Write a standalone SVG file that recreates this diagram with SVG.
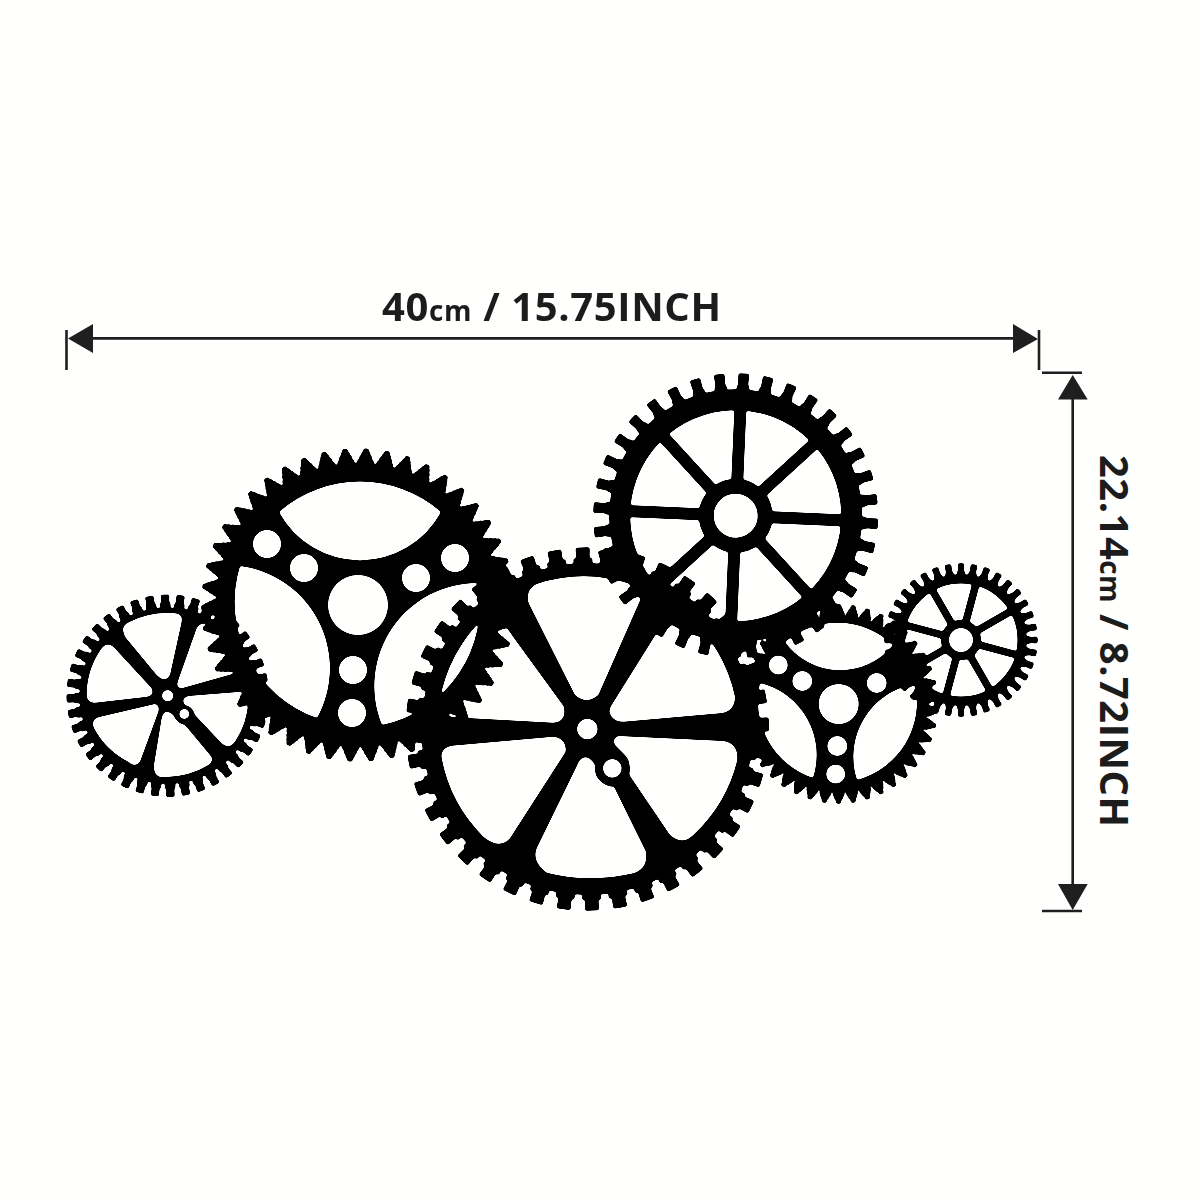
<svg xmlns="http://www.w3.org/2000/svg" width="1200" height="1200" viewBox="0 0 1200 1200">
<style>
.t{fill:none;stroke:#000}
.d{fill:#000;fill-rule:evenodd}
.s{stroke:#000;fill:none}
.l{stroke:#1f1f1f;stroke-width:2.6;fill:none}
.h{fill:#1f1f1f}
.x{font-family:"Open Sans","Liberation Sans",sans-serif;font-weight:700;fill:#1c1c1c;font-size:40px}
.m{font-size:28px}
</style>
<defs>
<filter id="soft" filterUnits="userSpaceOnUse" x="0" y="0" width="1200" height="1200">
<feGaussianBlur stdDeviation="1.1"/>
<feComponentTransfer><feFuncA type="linear" slope="6" intercept="-2.5"/></feComponentTransfer>
</filter>
</defs>
<rect width="1200" height="1200" fill="#fffffe"/>
<g id="gears" filter="url(#soft)">
<g id="gear-1" transform="rotate(7.4 167.7 695.7)">
<circle class="t" cx="167.7" cy="695.7" r="90" stroke-width="6" pathLength="40" stroke-dasharray=".74 .26" stroke-dashoffset=".37"/>
<circle class="t" cx="167.7" cy="695.7" r="96.5" stroke-width="9.5" pathLength="40" stroke-dasharray=".55 .45" stroke-dashoffset=".275"/>
</g>
<path id="gear-1-body" class="d" transform="translate(60 440) scale(.33333)" d="M59 767a264 264 0 1 0 528 0a264 264 0 1 0 -528 0Z
M306 767a17 17 0 1 0 34 0a17 17 0 1 0 -34 0Z
M358 822a15 15 0 1 0 30 0a15 15 0 1 0 -30 0Z
M190 575Q185 555 210 545A245 245 0 0 1 345 520Q370 522 365 545L330 705Q315 730 290 705L195 590Z
M355 720L410 565Q420 545 445 552A245 245 0 0 1 560 690L365 745Q345 745 355 720Z
M385 768L545 755Q570 760 565 785A245 245 0 0 1 525 905Q505 930 485 910L405 825Q400 800 375 795Q360 775 385 768Z
M318 815Q310 815 305 835L282 975Q280 1012 310 1012Q390 1010 445 975Q465 960 450 945L375 855Q350 850 340 825Q330 815 318 815Z
M285 792Q300 795 295 815L240 965Q225 985 205 965A240 240 0 0 1 100 860Q95 838 115 832Z
M275 745Q285 765 262 770L105 788Q78 790 80 760A245 245 0 0 1 125 625Q140 605 160 620Z"/>
<g id="gear-2" transform="rotate(6.9 358 605)">
<circle class="t" cx="358" cy="605" r="143" stroke-width="5" pathLength="46" stroke-dasharray=".85 .15" stroke-dashoffset=".425"/>
<circle class="t" cx="358" cy="605" r="147" stroke-width="5" pathLength="46" stroke-dasharray=".64 .36" stroke-dashoffset=".32"/>
<circle class="t" cx="358" cy="605" r="151" stroke-width="4.5" pathLength="46" stroke-dasharray=".44 .56" stroke-dashoffset=".22"/>
<circle class="t" cx="358" cy="605" r="154.5" stroke-width="4.5" pathLength="46" stroke-dasharray=".26 .74" stroke-dashoffset=".13"/>
</g>
<path id="gear-2-body" class="d" d="M216 605a142 142 0 1 0 284 0a142 142 0 1 0 -284 0Z
M328 605a30 30 0 1 0 60 0a30 30 0 1 0 -60 0Z
M253 544a14 14 0 1 0 28 0a14 14 0 1 0 -28 0Z
M290 568a14 14 0 1 0 28 0a14 14 0 1 0 -28 0Z
M402 578a14 14 0 1 0 28 0a14 14 0 1 0 -28 0Z
M441 558a14 14 0 1 0 28 0a14 14 0 1 0 -28 0Z
M339 670a14 14 0 1 0 28 0a14 14 0 1 0 -28 0Z
M338 713a14 14 0 1 0 28 0a14 14 0 1 0 -28 0Z
M279 512A123 123 0 0 1 441 512A92 92 0 0 1 279 512Z
M240 566A123 123 0 0 0 317 718A103 103 0 0 0 240 566Z
M478 583A123 123 0 0 1 382 725A103 103 0 0 1 478 583Z"/>
<g id="gear-3" transform="rotate(-6.7 735.7 515.7)">
<circle class="s" cx="735.7" cy="515.7" r="116" stroke-width="21"/>
<circle class="s" cx="735.7" cy="515.7" r="29.5" stroke-width="15"/>
<circle class="t" cx="735.7" cy="515.7" r="128" stroke-width="5" pathLength="36" stroke-dasharray=".55 .45" stroke-dashoffset=".275"/>
<circle class="t" cx="735.7" cy="515.7" r="135" stroke-width="15" pathLength="36" stroke-dasharray=".44 .56" stroke-dashoffset=".22"/>
</g>
<g id="gear-3-spokes" class="s" stroke-width="12">
<line x1="625.8" y1="511" x2="845.6" y2="520.5" pathLength="220" stroke-dasharray="80 60 80"/>
<line x1="654.6" y1="590" x2="816.8" y2="441.4" pathLength="220" stroke-dasharray="80 60 80"/>
<line x1="731" y1="625.6" x2="740.5" y2="405.8" pathLength="220" stroke-dasharray="80 60 80"/>
<line x1="661.4" y1="434.6" x2="810" y2="596.8" pathLength="220" stroke-dasharray="80 60 80"/>
</g>
<g id="gear-4" transform="rotate(7.5 587.3 729)">
<circle class="t" cx="587.3" cy="729" r="168.5" stroke-width="5" pathLength="40" stroke-dasharray=".72 .28" stroke-dashoffset=".36"/>
<circle class="t" cx="587.3" cy="729" r="175.5" stroke-width="12.5" pathLength="40" stroke-dasharray=".5 .5" stroke-dashoffset=".25"/>
</g>
<path id="gear-4-body" class="d" transform="translate(340 540) scale(.33333)" d="M244 567a498 498 0 1 0 996 0a498 498 0 1 0 -996 0Z
M711 567a31 31 0 1 0 62 0a31 31 0 1 0 -62 0Z
M789 685a28 28 0 1 0 56 0a28 28 0 1 0 -56 0Z
M566 190Q555 150 590 132A453 453 0 0 1 880 135Q915 140 905 170L775 465Q740 495 705 465Z
M815 495L990 215Q1010 200 1040 225A453 453 0 0 1 1185 470Q1185 515 1140 520L850 545Q815 545 808 515Q808 505 815 495Z
M835 588L1150 603Q1195 610 1192 660A453 453 0 0 1 1065 880Q1030 920 990 885L868 705Q875 665 855 645L825 615Q815 595 835 588Z
M735 652Q718 655 712 675L590 925Q575 965 620 998Q750 1030 880 1000Q925 985 918 935L822 740Q790 740 770 710Q762 690 765 675Q750 650 735 652Z
M335 617L640 590Q680 595 677 635L510 895Q480 930 430 890A453 453 0 0 1 305 655Q300 625 335 617Z
M340 532L640 548Q680 545 672 500L530 305L480 235Q465 215 440 225A453 453 0 0 0 298 490Q295 525 340 532Z"/>
<g id="gear-5" transform="rotate(4.3 838.7 704)">
<circle class="t" cx="838.7" cy="704" r="90" stroke-width="5" pathLength="42" stroke-dasharray=".85 .15" stroke-dashoffset=".425"/>
<circle class="t" cx="838.7" cy="704" r="93.5" stroke-width="4.5" pathLength="42" stroke-dasharray=".62 .38" stroke-dashoffset=".31"/>
<circle class="t" cx="838.7" cy="704" r="97.5" stroke-width="4.5" pathLength="42" stroke-dasharray=".36 .64" stroke-dashoffset=".18"/>
</g>
<path id="gear-5-body" class="d" d="M750.7 704a88 88 0 1 0 176 0a88 88 0 1 0 -176 0Z
M818.7 704a20 20 0 1 0 40 0a20 20 0 1 0 -40 0Z
M768.8 665a9.5 9.5 0 1 0 19 0a9.5 9.5 0 1 0 -19 0Z
M792.3 681a10 10 0 1 0 20 0a10 10 0 1 0 -20 0Z
M866.7 683a10 10 0 1 0 20 0a10 10 0 1 0 -20 0Z
M827.3 746a10 10 0 1 0 20 0a10 10 0 1 0 -20 0Z
M826.2 774a9.5 9.5 0 1 0 19 0a9.5 9.5 0 1 0 -19 0Z
M785 642A81 81 0 0 1 893 645A68 68 0 0 1 785 642Z
M760 683A81 81 0 0 0 813 778A74 74 0 0 0 760 683Z
M915 684A81 81 0 0 1 857 780A74 74 0 0 1 915 684Z"/>
<g id="gear-6">
<circle class="s" cx="961" cy="640" r="61" stroke-width="9"/>
<circle class="s" cx="961" cy="640" r="16" stroke-width="8"/>
<circle class="t" cx="961" cy="640" r="66.5" stroke-width="4" pathLength="36" stroke-dasharray=".7 .3" stroke-dashoffset=".35"/>
<circle class="t" cx="961" cy="640" r="71.5" stroke-width="10.5" pathLength="36" stroke-dasharray=".52 .48" stroke-dashoffset=".26"/>
</g>
<g id="gear-6-spokes" class="s" stroke-width="7.5">
<line x1="909" y1="670" x2="1013" y2="610" pathLength="120" stroke-dasharray="44 32 44"/>
<line x1="945.5" y1="698" x2="976.5" y2="582" pathLength="120" stroke-dasharray="44 32 44"/>
<line x1="991" y1="692" x2="931" y2="588" pathLength="120" stroke-dasharray="44 32 44"/>
<line x1="1019" y1="655.5" x2="903" y2="624.5" pathLength="120" stroke-dasharray="44 32 44"/>
</g>
</g>
<g id="dimensions">
<path class="l" d="M66.5 330V370M93 338.4H1013M1039 330V370M1042 372.7H1082M1072.7 399V885M1042 911H1082"/>
<path class="h" d="M68 338.5L93 324V353ZM1038 339L1013 324V353ZM1072.7 375L1058 399.5H1087.7ZM1072.7 910L1058 884H1087.7Z"/>
<text class="x" x="382" y="320.5" textLength="339" lengthAdjust="spacing">40<tspan class="m">cm</tspan> / 15.75INCH</text>
<text class="x" transform="translate(1100 455) rotate(90)" textLength="372" lengthAdjust="spacing">22.14<tspan class="m">cm</tspan> / 8.72INCH</text>
</g>
</svg>
